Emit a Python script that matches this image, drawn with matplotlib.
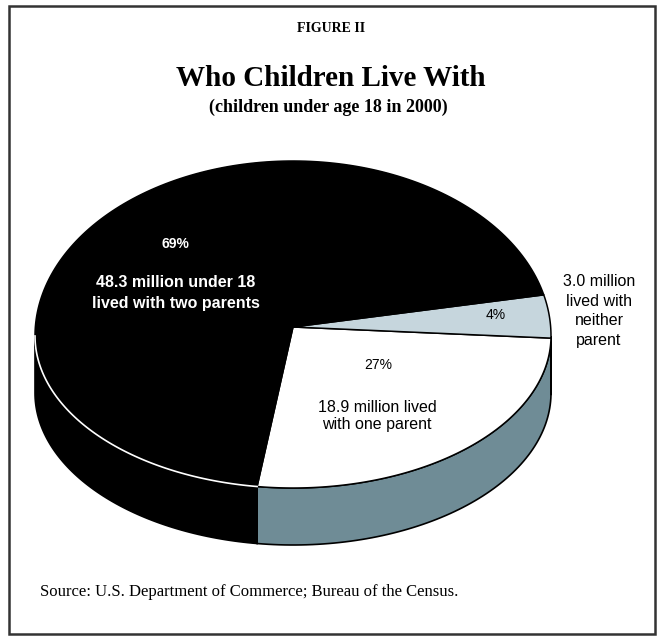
import numpy as np
import matplotlib.pyplot as plt
from matplotlib.patches import Polygon, Rectangle

# data
categories = ['two parents', 'one parent', 'neither parent']
shares = [69, 27, 4]                 # percent
millions = [48.3, 18.9, 3.0]
top_colors = ['#000000', '#ffffff', '#c6d6dd']
side_colors = ['#000000', '#6f8c96', '#111111']

# geometry of the tilted pie (pixel coords), back half a bit taller (perspective)
cx, cy = 293, 336
vx, vy = 293, 327          # where the slices meet
a = 258
b_back, b_front = 175, 152
depth = 57
start = -98.0   # parametric angle where the "one parent" slice starts (ccw)

fig = plt.figure(figsize=(6.58, 6.37), dpi=100)
ax = fig.add_axes([0, 0, 1, 1])
ax.set_xlim(0, 658)
ax.set_ylim(637, 0)
ax.axis('off')

# frame
ax.add_patch(Rectangle((9, 6), 646, 628, fill=False, ec='#333333', lw=1.8))


def pt(t, dy=0):
    t = np.radians(t)
    s = np.sin(t)
    b = b_back if s > 0 else b_front
    return cx + a * np.cos(t), cy - b * s + dy


# slice angle ranges, drawn ccw: one parent, neither, two parents
order = [1, 2, 0]
ranges = {}
t0 = start
for i in order:
    t1 = t0 + shares[i] * 3.6
    ranges[i] = (t0, t1)
    t0 = t1

# side walls (front half only: angles 180..360)
for i in order:
    t0, t1 = ranges[i]
    for k in range(-1, 2):
        lo = max(t0, 180 + 360 * k)
        hi = min(t1, 360 + 360 * k)
        if hi <= lo:
            continue
        ts = np.linspace(lo, hi, 80)
        upper = [pt(t) for t in ts]
        lower = [pt(t, depth) for t in ts[::-1]]
        ax.add_patch(Polygon(upper + lower, closed=True, fc=side_colors[i],
                             ec='black', lw=1.2, zorder=2))

# top faces
for i in order:
    t0, t1 = ranges[i]
    ts = np.linspace(t0, t1, 200)
    poly = [(vx, vy)] + [pt(t) for t in ts]
    ax.add_patch(Polygon(poly, closed=True, fc=top_colors[i], ec='black',
                         lw=1.1, zorder=3))

# thin white rim between top and side of the black slice
t0, t1 = ranges[0]
ts = np.linspace(max(t0, 180), min(t1, 360 - 0.01), 100)
rim = np.array([pt(t) for t in ts])
ax.plot(rim[:, 0], rim[:, 1], color='white', lw=1.2, zorder=4)

# titles
serif = 'Liberation Serif'
sans = 'Liberation Sans'
ax.text(331, 29, 'FIGURE II', ha='center', va='center', family=serif,
        fontsize=10, fontweight='bold')
ax.text(331, 78, 'Who Children Live With', ha='center', va='center',
        family=serif, fontsize=21, fontweight='bold')
ax.text(328, 107, '(children under age 18 in 2000)', ha='center',
        va='center', family=serif, fontsize=13, fontweight='bold')

# slice labels
ax.text(175, 244, f'{shares[0]}%', ha='center', va='center', family=sans,
        fontsize=10, fontweight='bold', color='white', zorder=5)
ax.text(176, 293, f'{millions[0]} million under 18\nlived with two parents',
        ha='center', va='center', family=sans, fontsize=11.5,
        fontweight='bold', color='white', linespacing=1.45, zorder=5)
ax.text(378, 365, f'{shares[1]}%', ha='center', va='center', family=sans,
        fontsize=10, color='black', zorder=5)
ax.text(377, 416, f'{millions[1]} million lived\nwith one parent',
        ha='center', va='center', family=sans, fontsize=11.5,
        color='black', linespacing=1.25, zorder=5)
ax.text(496, 315, f'{shares[2]}%', ha='center', va='center', family=sans,
        fontsize=10, color='black', zorder=5)
ax.text(599, 311, f'{millions[2]} million\nlived with\nneither\nparent',
        ha='center', va='center', family=sans, fontsize=11.5,
        color='black', linespacing=1.4, zorder=5)

# source
ax.text(40, 592, 'Source: U.S. Department of Commerce; Bureau of the Census.',
        ha='left', va='center', family=serif, fontsize=12)

fig.savefig('out.png', dpi=100)
